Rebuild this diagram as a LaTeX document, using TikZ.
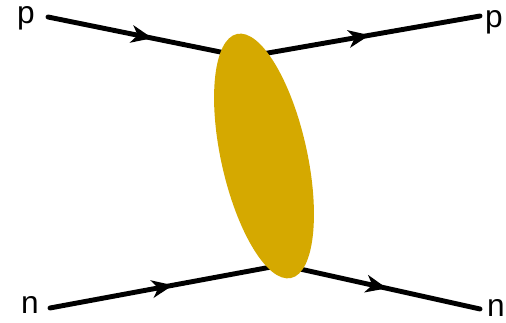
\documentclass[tikz,border=0pt]{standalone}
\usepackage{fontspec}
\setmainfont{Liberation Sans}
\usepackage{tikz}
\usetikzlibrary{shapes.geometric, arrows.meta, decorations.markings}
\definecolor{blobgold}{RGB}{213,169,0}
\tikzstyle{leg} = [line width=2.8pt, line cap=round, postaction={decorate}, decoration={markings, mark=at position 0.53 with {\arrow{Stealth[length=12pt, width=10pt, inset=3.5pt]}}}]
\tikzstyle{blob} = [ellipse, fill=blobgold, minimum width=1.72cm, minimum height=5cm, inner sep=0pt, rotate=12.5]
\tikzstyle{lbl} = [inner sep=0pt, anchor=mid, font=\fontsize{18}{20}\selectfont]

\begin{document}
\begin{tikzpicture}[x=0.02cm, y=-0.02cm]
  \useasboundingbox (0,0) rectangle (506,323);
  % Labels
  \node[lbl] (pin) at (26,19) {p};
  \node[lbl] (pout) at (494,23) {p};
  \node[lbl] (nin) at (30,309) {n};
  \node[lbl] (nout) at (496,312) {n};

  % Line ends
  \coordinate (pa) at (48,17);
  \coordinate (pb) at (480,16);
  \coordinate (na) at (50,308);
  \coordinate (nb) at (480,309);
  \coordinate (vtop) at (245,57);
  \coordinate (vbot) at (282,265);

  % Legs
  \draw[leg] (pa) -- (vtop);
  \draw[leg] (vtop) -- (pb);
  \draw[leg] (na) -- (vbot);
  \draw[leg] (vbot) -- (nb);

  % Blob
  \node[blob] (core) at (264,156) {};
\end{tikzpicture}
\end{document}
